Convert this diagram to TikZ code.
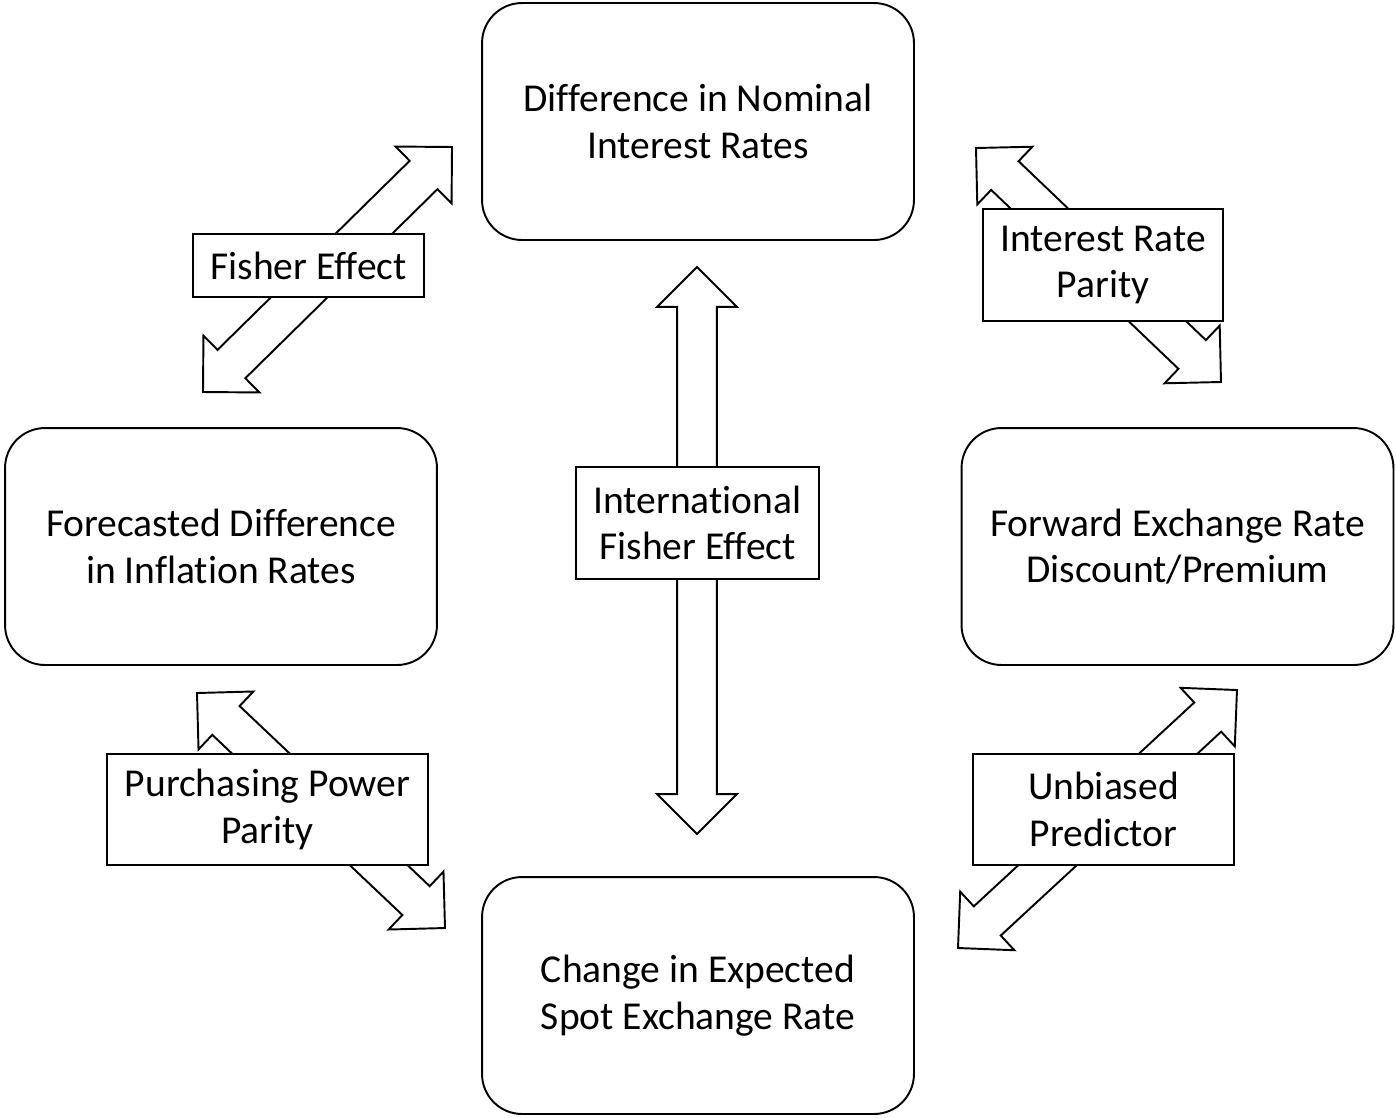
\documentclass[tikz,border=0pt]{standalone}
\usepackage{fontspec}
\setmainfont[Ligatures=NoCommon]{Carlito}
\usetikzlibrary{calc}
\tikzset{
  bigbox/.style={draw, line width=1.1pt, rounded corners=0.8cm, fill=white,
    minimum width=8.64cm, minimum height=4.74cm, align=center, inner sep=0pt,
    font=\fontsize{22.5}{26.6}\selectfont},
  lbl/.style={draw, line width=0.9pt, fill=white, align=center, inner sep=0pt,
    font=\fontsize{22.5}{26.6}\selectfont},
  blockarr/.style={draw, line width=1.1pt, fill=white, line join=miter}
}
\newcommand{\blockarrow}[2]{%
  \path let \p1=(#1), \p2=(#2), \n1={atan2(\y2-\y1,\x2-\x1)}, \n2={veclen(\x2-\x1,\y2-\y1)} in
    \pgfextra{\pgfmathsetmacro\bAang{\n1}\pgfmathsetmacro\bAlen{\n2}\pgfmathsetmacro\bAb{\n2-22.7}%
      \global\let\bAang\bAang\global\let\bAlen\bAlen\global\let\bAb\bAb};
  \draw[blockarr, shift={(#1)}, rotate=\bAang]
    (0pt,0pt) -- (22.7pt,22.7pt) -- (22.7pt,11.3pt) -- (\bAb pt,11.3pt)
    -- (\bAb pt,22.7pt) -- (\bAlen pt,0pt) -- (\bAb pt,-22.7pt)
    -- (\bAb pt,-11.3pt) -- (22.7pt,-11.3pt) -- (22.7pt,-22.7pt) -- cycle;
}
\begin{document}
\begin{tikzpicture}[x=0.02cm, y=-0.02cm]
\useasboundingbox (0,0) rectangle (1396,1117);
% main boxes
\node[bigbox] (top) at (698,121.5) {Difference in Nominal\\Interest Rates};
\node[bigbox] (left) at (221,546.5) {Forecasted Difference\\in Inflation Rates};
\node[bigbox] (right) at (1177.5,546.5) {Forward Exchange Rate\\Discount/Premium};
\node[bigbox] (bottom) at (698,995.5) {Change in Expected\\Spot Exchange Rate};
% arrow end points
\coordinate (fe1) at (203,392);  \coordinate (fe2) at (452,147);
\coordinate (irp1) at (976,148); \coordinate (irp2) at (1221,382);
\coordinate (ife1) at (697,267); \coordinate (ife2) at (697,834);
\coordinate (ppp1) at (197,693); \coordinate (ppp2) at (445,928);
\coordinate (up1) at (958,948);  \coordinate (up2) at (1237,690);
\blockarrow{fe1}{fe2}
\blockarrow{irp1}{irp2}
\blockarrow{ife1}{ife2}
\blockarrow{ppp1}{ppp2}
\blockarrow{up1}{up2}
% labels
\node[lbl, minimum width=4.62cm, minimum height=1.26cm] (fe) at (308.5,265.5) {Fisher Effect};
\node[lbl, minimum width=4.8cm, minimum height=2.24cm] (irp) at (1103,265) {Interest Rate\\Parity};
\node[lbl, minimum width=4.86cm, minimum height=2.24cm] (ife) at (697.5,523) {International\\Fisher Effect};
\node[lbl, minimum width=6.42cm, minimum height=2.22cm] (ppp) at (267.5,809.5) {Purchasing Power\\Parity};
\node[lbl, minimum width=5.22cm, minimum height=2.22cm] (up) at (1103.5,809.5) {Unbiased\\Predictor};
\end{tikzpicture}
\end{document}
